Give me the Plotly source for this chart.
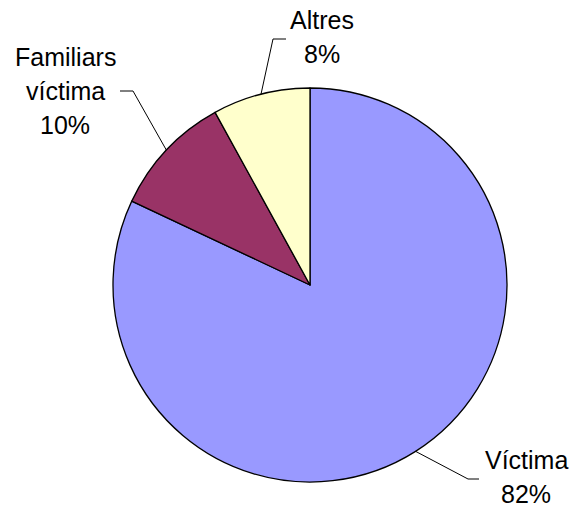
import math
import plotly.graph_objects as go

# Share of cases by who was affected
labels = ["Víctima", "Familiars víctima", "Altres"]
values = [82, 10, 8]
colors = ["#9999FF", "#993366", "#FFFFCC"]

W, H = 576, 509
CX, CY, R = 310, 285, 197  # pie centre and radius in pixels

# Label placement: text centre x, first baseline y, elbow point and end of leader line
label_layout = {
    "Víctima": {"tx": 526, "ty": 468, "elbow": (468, 479), "end": (479, 479), "lines": ["Víctima"]},
    "Familiars víctima": {"tx": 65, "ty": 65, "elbow": (133, 91), "end": (120, 91),
                          "lines": ["Familiars", "víctima"]},
    "Altres": {"tx": 322, "ty": 28, "elbow": (273, 39), "end": (286, 39), "lines": ["Altres"]},
}

FS = 25
LINE_H = 34


def px(x):
    return x / W


def py(y):
    return 1 - y / H


fig = go.Figure(go.Pie(
    labels=labels,
    values=values,
    sort=False,
    direction="clockwise",
    rotation=0,
    marker=dict(colors=colors, line=dict(color="black", width=1.3)),
    textinfo="none",
    hoverinfo="label+percent",
    domain=dict(x=[px(CX - R), px(CX + R)], y=[py(CY + R), py(CY - R)]),
))

total = sum(values)
shapes = []
annotations = []
cum = 0
for lab, val in zip(labels, values):
    mid = (cum + val / 2) / total * 2 * math.pi
    cum += val
    # point on the rim at the middle of the slice
    sx = CX + R * math.sin(mid)
    sy = CY - R * math.cos(mid)
    lay = label_layout[lab]
    ex, ey = lay["elbow"]
    fx, fy = lay["end"]
    shapes.append(dict(
        type="path", xref="paper", yref="paper",
        path=f"M {px(sx)},{py(sy)} L {px(ex)},{py(ey)} L {px(fx)},{py(fy)}",
        line=dict(color="black", width=1),
    ))
    pct = f"{round(val / total * 100)}%"
    for i, t in enumerate(lay["lines"] + [pct]):
        base = lay["ty"] + i * LINE_H
        annotations.append(dict(
            x=px(lay["tx"]), y=py(base - 8), xref="paper", yref="paper",
            text=t, showarrow=False, xanchor="center", yanchor="middle",
            font=dict(family="Liberation Sans, Arial, sans-serif", size=FS, color="black"),
        ))

fig.update_layout(
    width=W, height=H,
    margin=dict(l=0, r=0, t=0, b=0),
    paper_bgcolor="white",
    plot_bgcolor="white",
    showlegend=False,
    shapes=shapes,
    annotations=annotations,
)

fig.write_html("out.html")
